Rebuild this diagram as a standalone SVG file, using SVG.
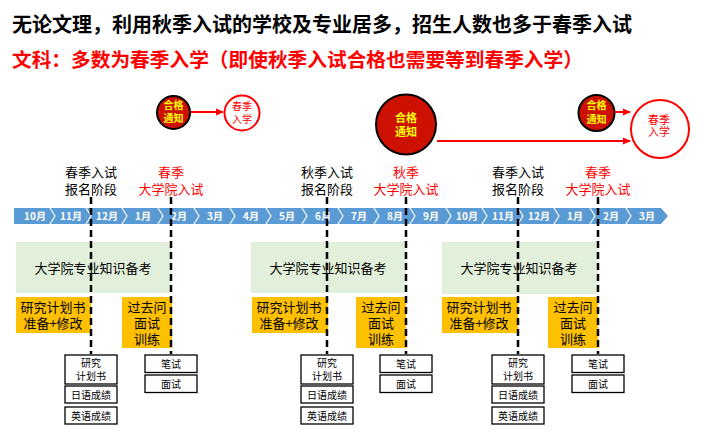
<svg xmlns="http://www.w3.org/2000/svg" width="703" height="435" viewBox="0 0 703 435">
<style>
text{font-family:"Noto Sans CJK SC","Noto Sans",sans-serif;}
.t1{font-size:20px;font-weight:bold;fill:#000;}
.t2{font-size:19.7px;font-weight:bold;fill:#FF0000;}
.lbl{font-size:13px;fill:#000;text-anchor:middle;}
.lblr{font-size:13px;fill:#FF0000;text-anchor:middle;}
.mon{font-size:10px;font-weight:bold;fill:#fff;text-anchor:middle;}
.pass{fill:#CC1100;stroke:#000;stroke-width:2;}
.passt{font-size:10px;font-weight:bold;fill:#FFFF00;text-anchor:middle;}
.passtb{font-size:11px;font-weight:bold;fill:#FFFF00;text-anchor:middle;}
.ent{fill:#fff;stroke:#FF0000;stroke-width:2;}
.entt{font-size:10px;fill:#FF0000;text-anchor:middle;}
.enttb{font-size:11px;fill:#FF0000;text-anchor:middle;}
.green{fill:#E2EFDA;}
.greent{font-size:13px;fill:#000;text-anchor:middle;}
.orange{fill:#FFC000;}
.oranget{font-size:13px;fill:#000;text-anchor:middle;}
.box{fill:#fff;stroke:#000;stroke-width:1.3;}
.boxt{font-size:10px;fill:#000;text-anchor:middle;}
.dash{stroke:#000;stroke-width:2.5;stroke-dasharray:7,4;fill:none;}
.arr{stroke:#FF0000;stroke-width:2;fill:none;}
.sep{stroke:#fff;stroke-width:1.2;fill:none;}
</style>
<defs>
<marker id="ah" markerWidth="8" markerHeight="8" refX="7" refY="4" orient="auto" markerUnits="userSpaceOnUse">
<path d="M0,0.5 L8,4 L0,7.5 Z" fill="#FF0000"/>
</marker>
</defs>
<rect width="703" height="435" fill="#fff"/>

<g id="title">
<text class="t1" x="12" y="31.5">无论文理，利用秋季入试的学校及专业居多，招生人数也多于春季入试</text>
<text class="t2" x="12" y="66.5">文科：多数为春季入学（即使秋季入试合格也需要等到春季入学）</text>
</g>

<g id="timeline">
<path d="M14,208 H661 L668,216 L661,224 H14 Z" fill="#5B9BD5"/>
<g class="sep">
<polyline points="50,208 55,216 50,224"/>
<polyline points="86,208 91,216 86,224"/>
<polyline points="122,208 127,216 122,224"/>
<polyline points="158,208 163,216 158,224"/>
<polyline points="194,208 199,216 194,224"/>
<polyline points="230,208 235,216 230,224"/>
<polyline points="266,208 271,216 266,224"/>
<polyline points="302,208 307,216 302,224"/>
<polyline points="338,208 343,216 338,224"/>
<polyline points="374,208 379,216 374,224"/>
<polyline points="410,208 415,216 410,224"/>
<polyline points="446,208 451,216 446,224"/>
<polyline points="482,208 487,216 482,224"/>
<polyline points="518,208 523,216 518,224"/>
<polyline points="554,208 559,216 554,224"/>
<polyline points="590,208 595,216 590,224"/>
<polyline points="626,208 631,216 626,224"/>
</g>
<text class="mon" x="35" y="220">10月</text>
<text class="mon" x="71" y="220">11月</text>
<text class="mon" x="107" y="220">12月</text>
<text class="mon" x="143" y="220">1月</text>
<text class="mon" x="179" y="220">2月</text>
<text class="mon" x="215" y="220">3月</text>
<text class="mon" x="251" y="220">4月</text>
<text class="mon" x="287" y="220">5月</text>
<text class="mon" x="323" y="220">6月</text>
<text class="mon" x="359" y="220">7月</text>
<text class="mon" x="395" y="220">8月</text>
<text class="mon" x="431" y="220">9月</text>
<text class="mon" x="467" y="220">10月</text>
<text class="mon" x="503" y="220">11月</text>
<text class="mon" x="539" y="220">12月</text>
<text class="mon" x="575" y="220">1月</text>
<text class="mon" x="611" y="220">2月</text>
<text class="mon" x="647" y="220">3月</text>
</g>

<g id="labels">
<text class="lbl" x="91" y="177">春季入试</text>
<text class="lbl" x="91" y="194">报名阶段</text>
<text class="lblr" x="171" y="177">春季</text>
<text class="lblr" x="171" y="194">大学院入试</text>
<text class="lbl" x="327" y="177">秋季入试</text>
<text class="lbl" x="327" y="194">报名阶段</text>
<text class="lblr" x="406" y="177">秋季</text>
<text class="lblr" x="406" y="194">大学院入试</text>
<text class="lbl" x="518" y="177">春季入试</text>
<text class="lbl" x="518" y="194">报名阶段</text>
<text class="lblr" x="598" y="177">春季</text>
<text class="lblr" x="598" y="194">大学院入试</text>
</g>

<g id="prep1">
<rect class="green" x="16" y="242" width="155" height="51"/>
<text class="greent" x="93" y="273">大学院专业知识备考</text>
</g>
<g id="plan1">
<rect class="orange" x="16" y="297" width="75" height="36"/>
<text class="oranget" x="53" y="312">研究计划书</text>
<text class="oranget" x="53" y="328">准备+修改</text>
</g>
<g id="past1">
<rect class="orange" x="122" y="297" width="50" height="51"/>
<text class="oranget" x="147" y="312">过去问</text>
<text class="oranget" x="147" y="328">面试</text>
<text class="oranget" x="147" y="344">训练</text>
</g>
<g id="prep2">
<rect class="green" x="251" y="242" width="155" height="51"/>
<text class="greent" x="328" y="273">大学院专业知识备考</text>
</g>
<g id="plan2">
<rect class="orange" x="252" y="297" width="76" height="36"/>
<text class="oranget" x="289" y="312">研究计划书</text>
<text class="oranget" x="289" y="328">准备+修改</text>
</g>
<g id="past2">
<rect class="orange" x="356" y="297" width="50" height="51"/>
<text class="oranget" x="381" y="312">过去问</text>
<text class="oranget" x="381" y="328">面试</text>
<text class="oranget" x="381" y="344">训练</text>
</g>
<g id="prep3">
<rect class="green" x="442" y="242" width="156" height="52"/>
<text class="greent" x="519" y="273">大学院专业知识备考</text>
</g>
<g id="plan3">
<rect class="orange" x="442" y="297" width="76" height="36"/>
<text class="oranget" x="479" y="312">研究计划书</text>
<text class="oranget" x="479" y="328">准备+修改</text>
</g>
<g id="past3">
<rect class="orange" x="548" y="297" width="50" height="51"/>
<text class="oranget" x="573" y="312">过去问</text>
<text class="oranget" x="573" y="328">面试</text>
<text class="oranget" x="573" y="344">训练</text>
</g>

<g id="dashes">
<line class="dash" x1="91" y1="197" x2="91" y2="354"/>
<line class="dash" x1="171" y1="197" x2="171" y2="354"/>
<line class="dash" x1="327" y1="197" x2="327" y2="354"/>
<line class="dash" x1="406" y1="197" x2="406" y2="354"/>
<line class="dash" x1="518" y1="197" x2="518" y2="354"/>
<line class="dash" x1="598" y1="197" x2="598" y2="354"/>
</g>

<g id="docs1">
<rect class="box" x="65" y="355" width="52" height="29"/>
<text class="boxt" x="91" y="367">研究</text>
<text class="boxt" x="91" y="379.5">计划书</text>
<rect class="box" x="65" y="386" width="52" height="17"/>
<text class="boxt" x="91" y="398.5">日语成绩</text>
<rect class="box" x="65" y="407" width="52" height="17"/>
<text class="boxt" x="91" y="419.5">英语成绩</text>
</g>
<g id="exam1">
<rect class="box" x="145" y="355" width="52" height="17.5"/>
<text class="boxt" x="171" y="368">笔试</text>
<rect class="box" x="145" y="375" width="52" height="17.5"/>
<text class="boxt" x="171" y="388">面试</text>
</g>
<g id="docs2">
<rect class="box" x="301" y="355" width="52" height="29"/>
<text class="boxt" x="327" y="367">研究</text>
<text class="boxt" x="327" y="379.5">计划书</text>
<rect class="box" x="301" y="386" width="52" height="17"/>
<text class="boxt" x="327" y="398.5">日语成绩</text>
<rect class="box" x="301" y="407" width="52" height="17"/>
<text class="boxt" x="327" y="419.5">英语成绩</text>
</g>
<g id="exam2">
<rect class="box" x="380" y="355" width="52" height="17.5"/>
<text class="boxt" x="406" y="368">笔试</text>
<rect class="box" x="380" y="375" width="52" height="17.5"/>
<text class="boxt" x="406" y="388">面试</text>
</g>
<g id="docs3">
<rect class="box" x="492" y="355" width="52" height="29"/>
<text class="boxt" x="518" y="367">研究</text>
<text class="boxt" x="518" y="379.5">计划书</text>
<rect class="box" x="492" y="386" width="52" height="17"/>
<text class="boxt" x="518" y="398.5">日语成绩</text>
<rect class="box" x="492" y="407" width="52" height="17"/>
<text class="boxt" x="518" y="419.5">英语成绩</text>
</g>
<g id="exam3">
<rect class="box" x="572" y="355" width="52" height="17.5"/>
<text class="boxt" x="598" y="368">笔试</text>
<rect class="box" x="572" y="375" width="52" height="17.5"/>
<text class="boxt" x="598" y="388">面试</text>
</g>

<g id="pass1">
<circle class="pass" cx="173.5" cy="112.5" r="16.5"/>
<text class="passt" x="173.5" y="109">合格</text>
<text class="passt" x="173.5" y="122">通知</text>
</g>
<g id="enter1">
<circle class="ent" cx="242" cy="113" r="17.5"/>
<text class="entt" x="242" y="109.5">春季</text>
<text class="entt" x="242" y="123">入学</text>
</g>
<g id="pass2">
<circle class="pass" cx="406" cy="124.5" r="30"/>
<text class="passtb" x="406" y="121.5">合格</text>
<text class="passtb" x="406" y="136">通知</text>
</g>
<g id="pass3">
<circle class="pass" cx="596.5" cy="113" r="18"/>
<text class="passt" x="596.5" y="109">合格</text>
<text class="passt" x="596.5" y="123">通知</text>
</g>
<g id="enter2">
<circle class="ent" cx="660" cy="129" r="29"/>
<text class="enttb" x="659" y="123.5">春季</text>
<text class="enttb" x="659" y="136">入学</text>
</g>

<g id="connectors">
<line class="arr" x1="191" y1="112" x2="223" y2="112" marker-end="url(#ah)"/>
<line class="arr" x1="437" y1="141" x2="630" y2="141" marker-end="url(#ah)"/>
<line class="arr" x1="615" y1="112" x2="630" y2="112" marker-end="url(#ah)"/>
</g>
</svg>
